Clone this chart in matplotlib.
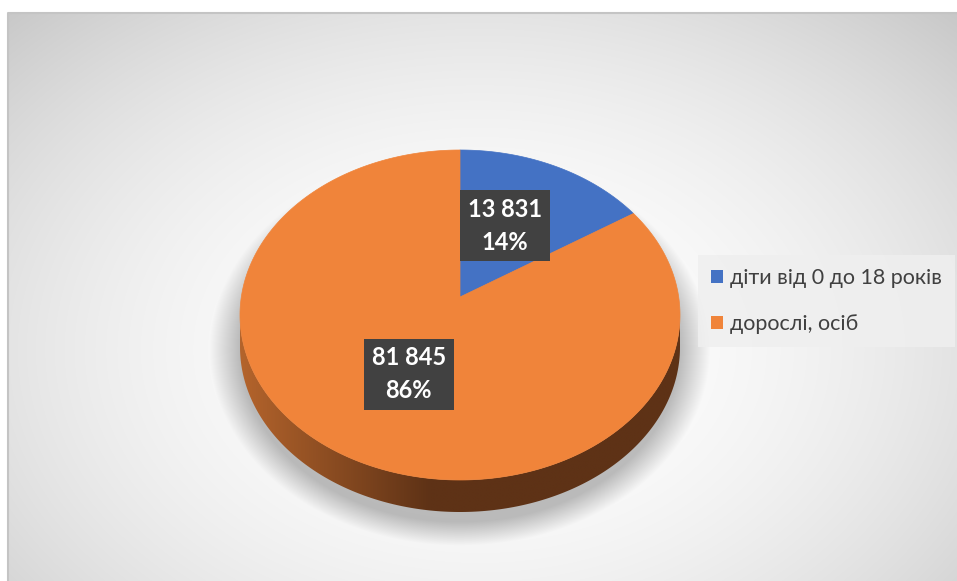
import numpy as np
import matplotlib
matplotlib.use('Agg')
import matplotlib.pyplot as plt
from matplotlib.patches import Polygon, Patch
from matplotlib.colors import to_rgb

plt.rcParams['font.family'] = ['Lato', 'DejaVu Sans']

# data
labels = ['діти від 0 до 18 років', 'дорослі, осіб']
values = [13831, 81845]
colors = ['#4472C4', '#F0843A']
side_colors = [('#3A62A8', '#2A4878'), ('#B4642C', '#5E3216')]

W, H = 957, 581
# pie geometry in pixels
cx, cy = 460, 315        # ellipse centre
apex_y = 297             # projected centre of the pie
rx, ry = 220, 165
depth = 32

fig = plt.figure(figsize=(W / 100, H / 100), dpi=100)
ax = fig.add_axes([0, 0, 1, 1])
ax.set_xlim(0, W)
ax.set_ylim(H, 0)
ax.axis('off')

# background: radial gradient + soft shadow of the pie
x0, y0 = 8, 13
yy, xx = np.mgrid[y0:H, x0:W] + 0.5
d = np.sqrt(((xx - 480) / 480) ** 2 + ((yy - 350) / 340) ** 2)
bg = 1 - 0.11 * d ** 2
sd = np.sqrt(((xx - 460) / 234) ** 2 + ((yy - 350) / 183) ** 2)
shadow = 0.25 * np.clip((1.07 - sd) / 0.13, 0, 1)
bg = np.clip(bg * (1 - shadow), 0, 1)
ax.imshow(np.dstack([bg, bg, bg]), extent=(x0, W, H, y0), aspect='auto',
          interpolation='bilinear', zorder=0)
ax.plot([x0, x0, W], [H, y0, y0], color='#c4c4c4', lw=1.5, zorder=1)


def ell(theta):
    t = np.radians(theta)
    return cx + rx * np.cos(t), cy - ry * np.sin(t)


total = sum(values)
start = 90.0
slices = []
for v in values:
    span = 360.0 * v / total
    slices.append((start - span, start))
    start -= span

# sides (front half only)
for (a0, a1), (c_light, c_dark) in zip(slices, side_colors):
    for k in range(-2, 2):
        lo = max(a0, -180 + 360 * k)
        hi = min(a1, 0 + 360 * k)
        if hi <= lo:
            continue
        th = np.linspace(lo, hi, 200)
        px, py = ell(th)
        verts = np.concatenate([np.c_[px, py], np.c_[px[::-1], py[::-1] + depth]])
        poly = Polygon(verts, closed=True, facecolor='none', edgecolor='none', zorder=2)
        ax.add_patch(poly)
        cl, cd = np.array(to_rgb(c_light)), np.array(to_rgb(c_dark))
        gx = np.linspace(px.min(), px.max(), 300)
        f = np.clip((gx - (cx - rx)) / 190, 0, 1)[None, :, None]
        grad = np.repeat(cl * (1 - f) + cd * f, 2, axis=0)
        im = ax.imshow(grad, extent=(px.min(), px.max(), py.max() + depth, py.min()),
                       aspect='auto', zorder=2, interpolation='bilinear')
        im.set_clip_path(poly)

# top faces
for (a0, a1), c in zip(slices, colors):
    th = np.linspace(a1, a0, 400)
    px, py = ell(th)
    verts = np.vstack([[cx, apex_y], np.c_[px, py]])
    ax.add_patch(Polygon(verts, closed=True, facecolor=c, edgecolor=c, lw=0.5, zorder=3))

# data labels
for (a0, a1), v in zip(slices, values):
    mid = np.radians((a0 + a1) / 2)
    lx = cx + 0.5 * rx * np.cos(mid) - 3
    ly = apex_y - 0.5 * ry * np.sin(mid) + 3
    txt = '{:,}'.format(v).replace(',', ' ') + '\n' + '{:.0f}%'.format(100 * v / total)
    ax.text(lx, ly, txt, ha='center', va='center', color='white', fontsize=17,
            fontweight='bold', linespacing=1.5, zorder=5,
            bbox=dict(boxstyle='square,pad=0.33', facecolor='#414141',
                      edgecolor='none', lw=0))

# legend
handles = [Patch(facecolor=c, edgecolor='none', label=l) for c, l in zip(colors, labels)]
leg = fig.legend(handles=handles, loc='upper left',
                 bbox_to_anchor=(698 / W, 1 - 255 / H), borderaxespad=0,
                 fontsize=15.5, frameon=True, fancybox=False, framealpha=0.85,
                 facecolor='#efefef', edgecolor='none', handlelength=0.55,
                 handleheight=0.55, handletextpad=0.35, labelspacing=1.2,
                 borderpad=0.6, labelcolor='#404040')

fig.savefig('out.png', dpi=100)
